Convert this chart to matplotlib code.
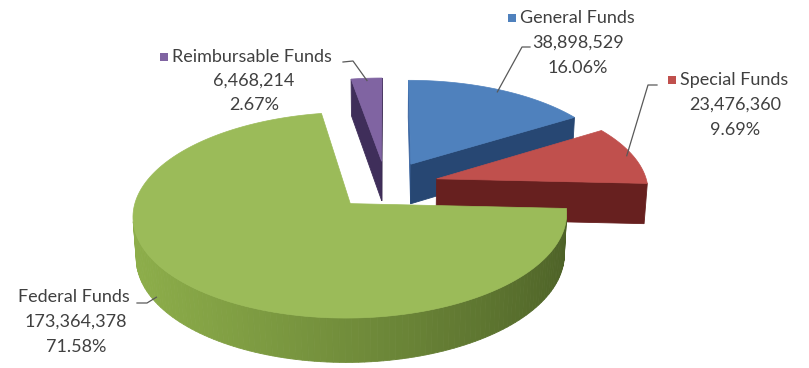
import numpy as np
import matplotlib.pyplot as plt
from matplotlib.patches import Polygon, Rectangle

# fund breakdown
labels = ['General Funds', 'Special Funds', 'Federal Funds', 'Reimbursable Funds']
amounts = [38898529, 23476360, 173364378, 6468214]
shares = [16.06, 9.69, 71.58, 2.67]

top_colors = ['#4F81BD', '#C0504D', '#9BBB59', '#8064A2']
side_light = ['#3A64A0', '#7A2826', '#8DAE4A', '#3F2E5A']
side_dark = ['#1F3A5F', '#4A1414', '#4B5F26', '#2A1E3D']
explode = [0.25, 0.25, 0.25, 0.25]
show_key = [True, True, False, True]

# label layout: (x of first line start, y of first line, x centre of number lines, line gap)
label_pos = [(520, 18, 578, 25), (680, 80, 735, 25), (18, 297, 76, 25), (172, 57, 254, 24)]
leader_knee = [[(530, 47), (522, 47)], [(657, 85), (648, 85)],
               [(137, 303), (147, 303)], [(343, 62), (353, 61)]]
# where each leader meets its slice: angle (None = middle of slice), height on the wall
leader_anchor = [(None, 0.0), (None, 0.0), (212, 0.85), (None, 0.0)]

R = 211.0
TILT = np.radians(27.5)
DIST = 1700.0
THICK = 46.0
CX, CY = 386.0, 185.0
TEXT = '#404040'

plt.rcParams['font.family'] = ['Lato', 'DejaVu Sans']

cam = np.array([0.0, -DIST * np.cos(TILT), DIST * np.sin(TILT)])


def project(p):
    x, y, z = p
    ys = y * np.sin(TILT) + z * np.cos(TILT)
    depth = y * np.cos(TILT) - z * np.sin(TILT)
    s = DIST / (DIST + depth)
    return CX + x * s, CY - ys * s


def depth_of(p):
    return p[1] * np.cos(TILT) - p[2] * np.sin(TILT)


def mix(c1, c2, t):
    a = np.array(plt.matplotlib.colors.to_rgb(c1))
    b = np.array(plt.matplotlib.colors.to_rgb(c2))
    return tuple(b + (a - b) * t)


def shade(i, normal_deg):
    t = (1 + np.cos(np.radians(normal_deg - 190))) / 2
    return mix(side_light[i], side_dark[i], t)


fracs = np.array(amounts) / sum(amounts)
starts = 90 - 360 * np.concatenate([[0], np.cumsum(fracs)[:-1]])
ends = starts - 360 * fracs
mids = (starts + ends) / 2

fig = plt.figure(figsize=(8.09, 3.68), dpi=100)
ax = fig.add_axes([0, 0, 1, 1])
ax.set_xlim(0, 809)
ax.set_ylim(368, 0)
ax.axis('off')

slices = []
offsets = []
for i in range(len(amounts)):
    m = np.radians(mids[i])
    ox, oy = explode[i] * R * np.cos(m), explode[i] * R * np.sin(m)
    offsets.append((ox, oy))
    n = max(8, int(abs(starts[i] - ends[i]) / 1.5))
    th = np.radians(np.linspace(starts[i], ends[i], n + 1))
    rim = [np.array([ox + R * np.cos(a), oy + R * np.sin(a), 0.0]) for a in th]
    apex = np.array([ox, oy, 0.0])
    down = np.array([0, 0, -THICK])

    walls = []
    # outer curved wall
    for k in range(n):
        a = (th[k] + th[k + 1]) / 2
        nrm = np.array([np.cos(a), np.sin(a), 0])
        pm = (rim[k] + rim[k + 1]) / 2 + down / 2
        if nrm @ (cam - pm) > 0:
            quad = [rim[k], rim[k + 1], rim[k + 1] + down, rim[k] + down]
            walls.append((depth_of(pm), quad, shade(i, np.degrees(a))))
    # radial walls
    for edge, nang in ((rim[0], starts[i] + 90), (rim[-1], ends[i] - 90)):
        nrm = np.array([np.cos(np.radians(nang)), np.sin(np.radians(nang)), 0])
        pm = (apex + edge) / 2 + down / 2
        if nrm @ (cam - pm) > 0:
            quad = [apex, edge, edge + down, apex + down]
            walls.append((depth_of(pm), quad, shade(i, nang)))

    centre = apex + 0.5 * R * np.array([np.cos(m), np.sin(m), 0])
    slices.append((depth_of(centre), i, walls, [apex] + rim))

# paint from the back to the front
for _, i, walls, top in sorted(slices, key=lambda s: -s[0]):
    for _, quad, col in sorted(walls, key=lambda w: -w[0]):
        pts = [project(p) for p in quad]
        ax.add_patch(Polygon(pts, closed=True, facecolor=col, edgecolor=col, lw=0.6))
    pts = [project(p) for p in top]
    ax.add_patch(Polygon(pts, closed=True, facecolor=top_colors[i],
                         edgecolor=top_colors[i], lw=0.5))

# data labels with leader lines
for i in range(len(amounts)):
    x0, y0, xc, gap = label_pos[i]
    ang, zf = leader_anchor[i]
    a = np.radians(mids[i] if ang is None else ang)
    ox, oy = offsets[i]
    rr = 0.97 if zf == 0 else 1.0
    tip = project(np.array([ox + rr * R * np.cos(a), oy + rr * R * np.sin(a), -zf * THICK]))
    line = leader_knee[i] + [tip]
    ax.plot([p[0] for p in line], [p[1] for p in line], color='#595959', lw=0.9)

    if show_key[i]:
        ax.add_patch(Rectangle((x0 - 12, y0 - 4), 8, 8, facecolor=top_colors[i],
                               edgecolor='none'))
    ax.text(x0, y0, labels[i], ha='left', va='center', fontsize=13, color=TEXT)
    ax.text(xc, y0 + gap, f'{amounts[i]:,}', ha='center', va='center',
            fontsize=13, color=TEXT)
    ax.text(xc, y0 + 2 * gap, f'{shares[i]:.2f}%', ha='center', va='center',
            fontsize=13, color=TEXT)

fig.savefig('out.png', dpi=100)
